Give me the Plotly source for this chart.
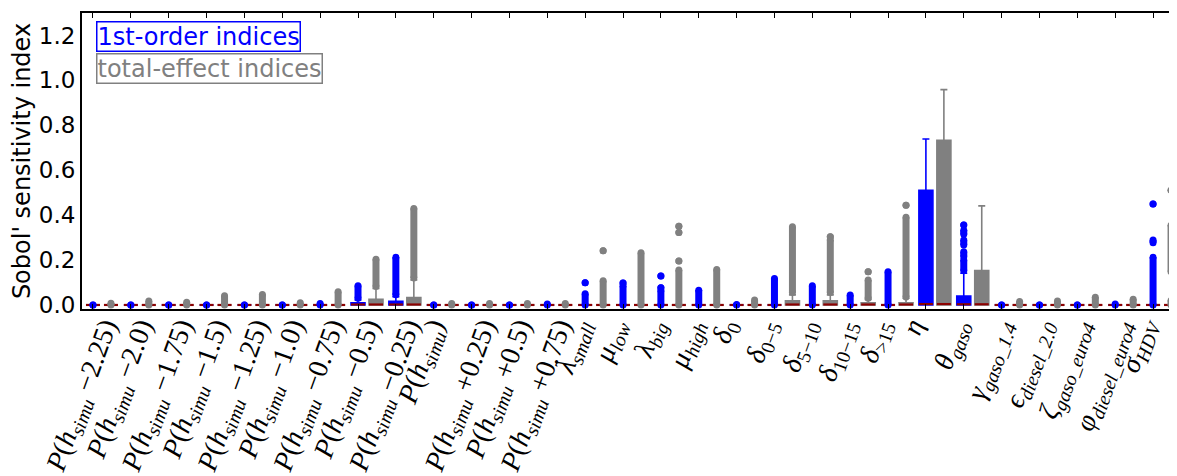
import re
import plotly.graph_objects as go

# ---------------- data ----------------
labels = [
    "<i>P</i>(<i>h</i><sub><i>simu</i></sub> −2.25)",
    "<i>P</i>(<i>h</i><sub><i>simu</i></sub> −2.0)",
    "<i>P</i>(<i>h</i><sub><i>simu</i></sub> −1.75)",
    "<i>P</i>(<i>h</i><sub><i>simu</i></sub> −1.5)",
    "<i>P</i>(<i>h</i><sub><i>simu</i></sub> −1.25)",
    "<i>P</i>(<i>h</i><sub><i>simu</i></sub> −1.0)",
    "<i>P</i>(<i>h</i><sub><i>simu</i></sub> −0.75)",
    "<i>P</i>(<i>h</i><sub><i>simu</i></sub> −0.5)",
    "<i>P</i>(<i>h</i><sub><i>simu</i></sub> −0.25)",
    "<i>P</i>(<i>h</i><sub><i>simu</i></sub>)",
    "<i>P</i>(<i>h</i><sub><i>simu</i></sub> +0.25)",
    "<i>P</i>(<i>h</i><sub><i>simu</i></sub> +0.5)",
    "<i>P</i>(<i>h</i><sub><i>simu</i></sub> +0.75)",
    "<i>λ</i><sub><i>small</i></sub>",
    "<i>μ</i><sub><i>low</i></sub>",
    "<i>λ</i><sub><i>big</i></sub>",
    "<i>μ</i><sub><i>high</i></sub>",
    "<i>δ</i><sub>0</sub>",
    "<i>δ</i><sub>0−5</sub>",
    "<i>δ</i><sub>5−10</sub>",
    "<i>δ</i><sub>10−15</sub>",
    "<i>δ</i><sub>&gt;15</sub>",
    "<i>η</i>",
    "<i>θ</i><sub><i>gaso</i></sub>",
    "<i>γ</i><sub><i>gaso_1.4</i></sub>",
    "<i>ϵ</i><sub><i>diesel_2.0</i></sub>",
    "<i>ζ</i><sub><i>gaso_euro4</i></sub>",
    "<i>φ</i><sub><i>diesel_euro4</i></sub>",
    "<i>σ</i><sub><i>HDV</i></sub>",
]

# first-order indices (blue) box statistics
s1_q1 = [0] * 29
s1_med = [0, 0, 0, 0, 0, 0, 0, 0.002, 0.002, 0, 0, 0, 0, 0, 0, 0, 0, 0, 0, 0, 0, 0, 0.004, 0.003, 0, 0, 0, 0, 0]
s1_q3 = [0, 0, 0, 0, 0, 0, 0, 0.010, 0.016, 0, 0, 0, 0, 0, 0, 0, 0, 0, 0, 0, 0, 0, 0.511, 0.040, 0, 0, 0, 0, 0]
s1_lo = [0] * 29
s1_hi = [0, 0, 0, 0, 0, 0, 0, 0.022, 0.037, 0, 0, 0, 0, 0, 0, 0, 0, 0, 0, 0, 0, 0, 0.739, 0.141, 0, 0, 0, 0, 0]
# outliers: ranges [low, high] of the dense columns of flier dots (low == high is one dot)
s1_fliers = [
    [[0, 0]], [[0, 0]], [[0, 0]], [[0, 0]], [[0, 0]], [[0, 0]], [[0, 0.006]],
    [[0.03, 0.086]], [[0.045, 0.212]],
    [[0, 0]], [[0, 0]], [[0, 0]], [[0, 0.004]],
    [[0, 0.05], [0.099, 0.099]],
    [[0, 0.085], [0.098, 0.098]],
    [[0, 0.064], [0.077, 0.077], [0.129, 0.129]],
    [[0, 0.066]],
    [[0, 0.002]],
    [[0, 0.118]],
    [[0, 0.085]],
    [[0, 0.044]],
    [[0, 0.148]],
    [],
    [[0.152, 0.2], [0.215, 0.237], [0.267, 0.289], [0.315, 0.333], [0.356, 0.356]],
    [[0, 0]], [[0, 0]], [[0, 0]], [[0, 0.004]],
    [[0, 0.212], [0.277, 0.289], [0.449, 0.449]],
]

# total-effect indices (grey) box statistics
st_q1 = [0] * 29
st_med = [0, 0, 0, 0, 0, 0, 0, 0.002, 0.002, 0, 0, 0, 0, 0, 0, 0, 0, 0, 0.002, 0.002, 0.002, 0.002, 0.004, 0.003, 0, 0, 0, 0, 0]
st_q3 = [0, 0, 0, 0, 0, 0, 0, 0.025, 0.033, 0, 0, 0, 0, 0, 0, 0, 0, 0, 0.018, 0.018, 0.010, 0.010, 0.733, 0.153, 0, 0, 0, 0, 0]
st_lo = [0] * 29
st_hi = [0, 0, 0, 0, 0, 0, 0, 0.074, 0.111, 0, 0, 0, 0, 0, 0, 0, 0, 0, 0.045, 0.045, 0.025, 0.030, 0.959, 0.441, 0, 0, 0, 0, 0]
st_fliers = [
    [[0, 0.008]], [[0, 0.018]], [[0, 0.012]], [[0, 0.041]], [[0, 0.047]], [[0, 0.010]], [[0, 0.059]],
    [[0.082, 0.203]], [[0.12, 0.43]],
    [[0, 0.006]], [[0, 0.007]], [[0, 0.007]], [[0, 0.007]],
    [[0, 0.108], [0.241, 0.241]],
    [[0, 0.232]],
    [[0, 0.156], [0.196, 0.196], [0.323, 0.323], [0.351, 0.351]],
    [[0, 0.158]],
    [[0, 0.022]],
    [[0.055, 0.348]],
    [[0.055, 0.29], [0.304, 0.304]],
    [[0.03, 0.111], [0.148, 0.148]],
    [[0.035, 0.39], [0.444, 0.444]],
    [],
    [],
    [[0, 0.015]], [[0, 0.018]], [[0, 0.034]], [[0, 0.025]],
    [[0, 0.02], [0.148, 0.355], [0.511, 0.511]],
]

yticks = [0.0, 0.2, 0.4, 0.6, 0.8, 1.0, 1.2]

# ---------------- styling ----------------
BLUE = "#0000ff"
GREY = "#808080"
MED = "#8b0000"
BOX_W = 0.37
OFFSET = 0.475
PX_PER_UNIT = 37.86
LABEL_SIZE = 28

pos_s1 = list(range(len(labels)))
pos_st = [p + OFFSET for p in pos_s1]


def label_shift(lbl):
    """Approximate centring of a rotated label on its tick (like ha='center')."""
    sub = "".join(re.findall(r"<sub>(.*?)</sub>", lbl))
    sub = re.sub(r"<[^>]+>", "", sub).replace("&gt;", ">")
    main = re.sub(r"<sub>.*?</sub>", "", lbl)
    main = re.sub(r"<[^>]+>", "", main).replace("&gt;", ">")
    length = 13 * len(main) + 8.8 * len(sub)
    return (0.171 * length - 17) / PX_PER_UNIT


label_pos = [p + label_shift(l) for p, l in zip(pos_s1, labels)]

fig = go.Figure()


def add_series(pos, q1, med, q3, lo, hi, fliers, color):
    fig.add_trace(go.Box(
        x=pos, q1=q1, median=med, q3=q3, lowerfence=lo, upperfence=hi,
        width=BOX_W, whiskerwidth=0.5, fillcolor=color,
        line=dict(color=color, width=1.6), boxpoints=False,
        showlegend=False, hoverinfo="skip",
    ))
    mx, my = [], []
    for p, m in zip(pos, med):
        mx += [p - BOX_W / 2, p + BOX_W / 2, None]
        my += [m, m, None]
    fig.add_trace(go.Scatter(x=mx, y=my, mode="lines",
                             line=dict(color=MED, width=2.2),
                             showlegend=False, hoverinfo="skip"))
    fx, fy = [], []
    for p, segs in zip(pos, fliers):
        for lo_, hi_ in segs:
            fx += [p, p, None]
            fy += [lo_, hi_, None]
    fig.add_trace(go.Scatter(x=fx, y=fy, mode="lines+markers",
                             line=dict(color=color, width=7),
                             marker=dict(color=color, size=7, line=dict(width=0)),
                             showlegend=False, hoverinfo="skip"))


add_series(pos_s1, s1_q1, s1_med, s1_q3, s1_lo, s1_hi, s1_fliers, BLUE)
add_series(pos_st, st_q1, st_med, st_q3, st_lo, st_hi, st_fliers, GREY)

# invisible trace so the label axis is drawn
fig.add_trace(go.Scatter(x=[0], y=[0], xaxis="x2", mode="markers",
                         marker=dict(opacity=0), showlegend=False, hoverinfo="skip"))

fig.add_annotation(text="1st-order indices", xref="paper", yref="paper",
                   x=14 / 1097, y=1 - 8 / 296, xanchor="left", yanchor="top",
                   showarrow=False, font=dict(family="DejaVu Sans", size=24, color=BLUE),
                   bordercolor=BLUE, borderwidth=1.5, borderpad=0, bgcolor="white")
fig.add_annotation(text="total-effect indices", xref="paper", yref="paper",
                   x=14 / 1097, y=1 - 40 / 296, xanchor="left", yanchor="top",
                   showarrow=False, font=dict(family="DejaVu Sans", size=24, color=GREY),
                   bordercolor=GREY, borderwidth=1.5, borderpad=0, bgcolor="white")

XRANGE = [-0.29, -0.29 + 1097 / PX_PER_UNIT]

fig.update_layout(
    width=1171, height=468,
    margin=dict(l=74, r=0, t=5, b=167),
    paper_bgcolor="white", plot_bgcolor="white",
    boxmode="overlay",
    font=dict(family="DejaVu Sans", color="black"),
    xaxis=dict(
        range=XRANGE, tickmode="array", tickvals=pos_s1, showticklabels=False,
        ticks="inside", ticklen=5, tickwidth=1, tickcolor="black",
        showline=True, linecolor="black", linewidth=2, mirror="ticks",
        showgrid=False, zeroline=False, automargin=False,
    ),
    xaxis2=dict(
        overlaying="x", side="bottom", range=XRANGE,
        tickmode="array", tickvals=label_pos, ticktext=labels,
        tickangle=-70, ticks="", showline=False, showgrid=False, zeroline=False,
        automargin=False, ticklabelstandoff=-5,
        tickfont=dict(family="Liberation Serif", size=LABEL_SIZE, color="black"),
    ),
    yaxis=dict(
        range=[-0.018, 1.3], tickmode="array", tickvals=yticks,
        ticktext=[f"{v:.1f}" for v in yticks],
        ticks="", showline=True, linecolor="black", linewidth=2, mirror=True,
        showgrid=False, zeroline=False, automargin=False,
        tickfont=dict(family="DejaVu Sans", size=23, color="black"),
        title=dict(text="Sobol' sensitivity index", standoff=6,
                   font=dict(family="DejaVu Sans", size=24, color="black")),
    ),
)

fig.write_html("out.html")
